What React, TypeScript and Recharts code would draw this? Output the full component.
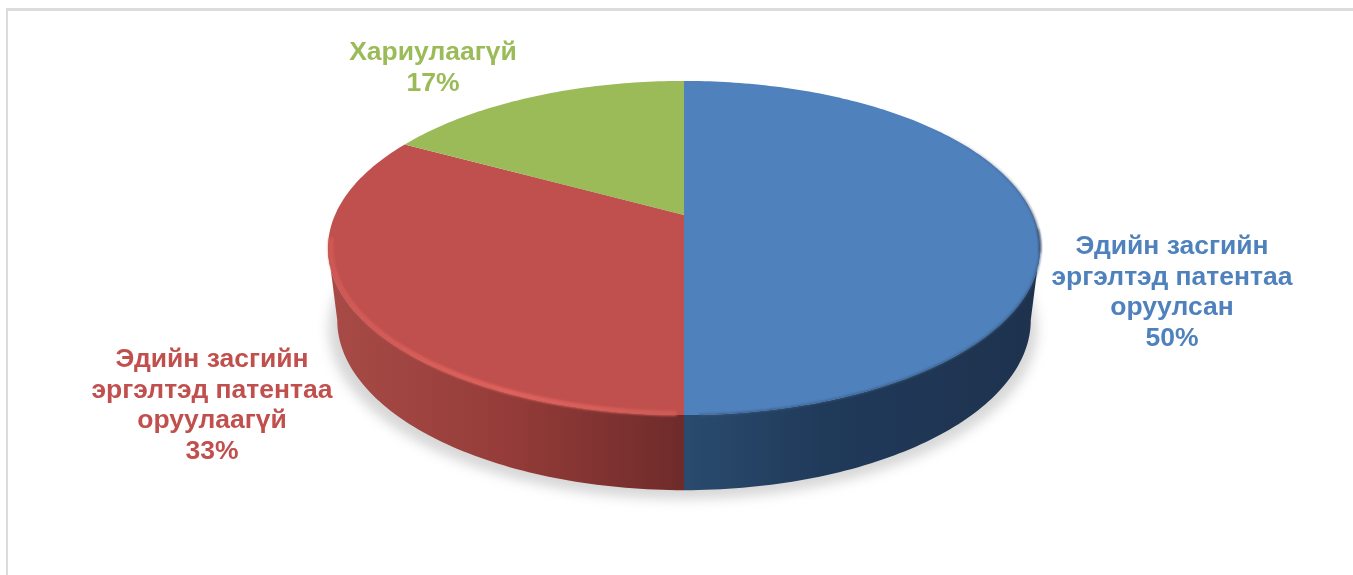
import React from 'react';
import { Pie, PieChart } from 'recharts';

const names = ['Эдийн засгийн эргэлтэд патентаа оруулсан', 'Эдийн засгийн эргэлтэд патентаа оруулаагүй', 'Хариулаагүй'];
const nameLines = [
  ['Эдийн засгийн', 'эргэлтэд патентаа', 'оруулсан'],
  ['Эдийн засгийн', 'эргэлтэд патентаа', 'оруулаагүй'],
  ['Хариулаагүй'],
];
const shares = [50, 33, 17];

const topColors = ['#4F81BD', '#C0504D', '#9BBB59'];
const wallFills = ['url(#wallBlue)', 'url(#wallRed)', 'none'];
const labelAnchors = [
  { x: 1172, y: 245 },
  { x: 212, y: 358 },
  { x: 433, y: 51 },
];

const pieData = names.map((name, i) => ({ name, value: shares[i] }));

const WIDTH = 1353;
const HEIGHT = 575;
const CX = 684;
const CY = 215;
const RADIUS = 349;

// the chart is a tilted disc seen in perspective, so a slice's angles go through this
const PERSPECTIVE = 0.1976;
const TILT = 0.46;
const WALL_DROP = 71.5;
const BOTTOM_X = 0.974;
const BOTTOM_Y = 1.018;
const SILHOUETTE = (Math.acos(-PERSPECTIVE) * 180) / Math.PI;

function project(deg: number, cx: number, cy: number, r: number, sx = 1, sy = 1) {
  const t = (deg * Math.PI) / 180;
  const d = 1 + PERSPECTIVE * Math.cos(t);
  return {
    x: cx + (r * sx * Math.sin(t)) / d,
    y: cy - (r * TILT * sy * Math.cos(t)) / d,
  };
}

function arcPoints(from: number, to: number, cx: number, cy: number, r: number, sx = 1, sy = 1) {
  const steps = Math.max(2, Math.ceil(Math.abs(to - from)));
  const pts = [];
  for (let i = 0; i <= steps; i++) {
    pts.push(project(from + ((to - from) * i) / steps, cx, cy, r, sx, sy));
  }
  return pts;
}

const toPath = (pts: { x: number; y: number }[]) =>
  pts.map((p, i) => `${i ? 'L' : 'M'}${p.x.toFixed(2)} ${p.y.toFixed(2)}`).join(' ');

function DiscSlice(props: any) {
  const { cx, cy, outerRadius: r, startAngle, endAngle, index } = props;
  const t0 = 90 - startAngle;
  const t1 = 90 - endAngle;
  const lo = Math.max(t0, SILHOUETTE);
  const hi = Math.min(t1, 360 - SILHOUETTE);
  const top = `M${cx} ${cy} ${toPath(arcPoints(t0, t1, cx, cy, r)).replace('M', 'L')} Z`;
  const hasWall = hi > lo;
  let wall = '';
  if (hasWall) {
    const upper = arcPoints(lo, hi, cx, cy, r);
    const lower = arcPoints(hi, lo, cx, cy + WALL_DROP, r, BOTTOM_X, BOTTOM_Y);
    wall = `${toPath(upper)} ${toPath(lower).replace('M', 'L')} Z`;
  }
  return (
    <g>
      {index === 0 && (
        <path
          d={`${toPath(arcPoints(0, 360, cx - 1, cy + WALL_DROP + 9, r, 0.995, BOTTOM_Y))} Z`}
          fill="#c8c8c8"
          opacity={0.72}
          filter="url(#softShadow)"
        />
      )}
      {hasWall && <path d={wall} fill={wallFills[index]} />}
      <path d={top} fill={topColors[index]} />
      {index === 0 && (
        <>
          <path
            d={toPath(arcPoints(95, 178, cx, cy, r))}
            fill="none"
            stroke="#35587f"
            strokeWidth={1.6}
            filter="url(#softEdge)"
          />
          <path
            d={toPath(arcPoints(50, 103, cx, cy, r))}
            fill="none"
            stroke="url(#rimBlue)"
            strokeWidth={1.6}
            filter="url(#softEdge)"
          />
        </>
      )}
      {index === 1 && (
        <path
          d={toPath(arcPoints(181, 262, cx, cy, r, 0.992, 0.992))}
          fill="none"
          stroke="url(#rimRed)"
          strokeWidth={5}
          filter="url(#softEdge)"
        />
      )}
    </g>
  );
}

function SliceLabel(props: any) {
  const { index, value } = props;
  const anchor = labelAnchors[index];
  const lines = [...nameLines[index], `${value}%`];
  return (
    <text
      x={anchor.x}
      textAnchor="middle"
      fill={topColors[index]}
      fontFamily="'Liberation Sans', Arial, sans-serif"
      fontWeight="bold"
      fontSize={26.5}
      filter="url(#softText)"
    >
      {lines.map((line, i) => (
        <tspan key={line} x={anchor.x} y={anchor.y + 9 + i * 30.5}>
          {line}
        </tspan>
      ))}
    </text>
  );
}

export default function App() {
  return (
    <div style={{ position: 'absolute', left: 0, top: 0, width: WIDTH, height: HEIGHT, background: '#fff', overflow: 'hidden' }}>
      <div
        style={{
          position: 'absolute',
          left: 6,
          top: 8,
          right: 0,
          bottom: 0,
          borderTop: '3px solid #dcdcdc',
          borderLeft: '2px solid #dcdcdc',
        }}
      />
      <PieChart width={WIDTH} height={HEIGHT} margin={{ top: 0, right: 0, bottom: 0, left: 0 }}>
        <defs>
          <linearGradient id="wallRed" gradientUnits="userSpaceOnUse" x1="328" y1="0" x2="684" y2="0">
            <stop offset="0" stopColor="#A84B47" />
            <stop offset="0.5" stopColor="#953C39" />
            <stop offset="1" stopColor="#6E2B2A" />
          </linearGradient>
          <linearGradient id="wallBlue" gradientUnits="userSpaceOnUse" x1="684" y1="0" x2="1035" y2="0">
            <stop offset="0" stopColor="#2A4B6E" />
            <stop offset="0.4" stopColor="#203A5A" />
            <stop offset="1" stopColor="#1E324E" />
          </linearGradient>
          <linearGradient id="rimRed" gradientUnits="userSpaceOnUse" x1="330" y1="0" x2="684" y2="0">
            <stop offset="0" stopColor="#CF5955" />
            <stop offset="0.5" stopColor="#E0625D" />
            <stop offset="1" stopColor="#CE5A56" />
          </linearGradient>
          <linearGradient id="rimBlue" gradientUnits="userSpaceOnUse" x1="0" y1="125" x2="0" y2="235">
            <stop offset="0" stopColor="#3f4f63" stopOpacity="0" />
            <stop offset="1" stopColor="#3f4f63" stopOpacity="1" />
          </linearGradient>
          <filter id="softShadow" x="-10%" y="-10%" width="120%" height="120%">
            <feGaussianBlur stdDeviation="6" />
          </filter>
          <filter id="softEdge" filterUnits="userSpaceOnUse" x="300" y="60" width="760" height="380">
            <feGaussianBlur stdDeviation="1.3" />
          </filter>
          <filter id="softText" x="-5%" y="-5%" width="110%" height="110%">
            <feGaussianBlur stdDeviation="0.45" />
          </filter>
        </defs>
        <Pie
          data={pieData}
          dataKey="value"
          nameKey="name"
          cx={CX}
          cy={CY}
          innerRadius={0}
          outerRadius={RADIUS}
          startAngle={90}
          endAngle={-270}
          stroke="none"
          isAnimationActive={false}
          shape={DiscSlice}
          label={SliceLabel}
          labelLine={false}
        />
      </PieChart>
    </div>
  );
}
